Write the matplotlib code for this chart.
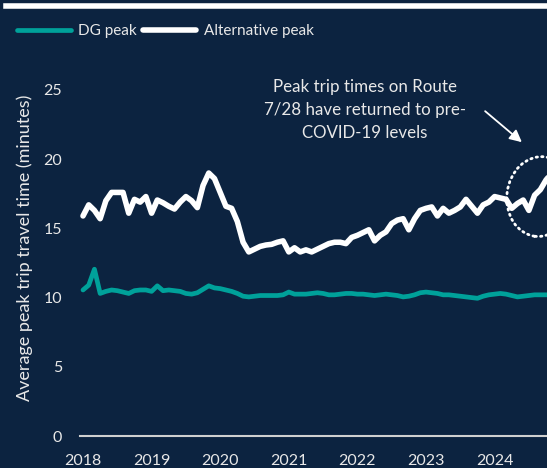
import numpy as np
import matplotlib; matplotlib.use('Agg')
import matplotlib.pyplot as plt
from matplotlib.patches import Ellipse
from matplotlib.transforms import ScaledTranslation

BG = '#0c2340'
TEAL = '#00a19a'
TXT = '#e8e8e8'
plt.rcParams['font.family'] = ['Lato', 'DejaVu Sans']

# monthly values starting Jan 2018
dg_peak = [10.55, 10.9, 12.05, 10.3, 10.45, 10.55, 10.5, 10.4, 10.3, 10.5, 10.55, 10.55,
           10.45, 10.85, 10.5, 10.55, 10.5, 10.45, 10.3, 10.25, 10.35, 10.6, 10.85, 10.7,
           10.65, 10.55, 10.45, 10.3, 10.1, 10.05, 10.1, 10.15, 10.15, 10.15, 10.15, 10.2,
           10.4, 10.25, 10.25, 10.25, 10.3, 10.35, 10.3, 10.2, 10.2, 10.25, 10.3, 10.3,
           10.25, 10.25, 10.2, 10.15, 10.2, 10.25, 10.2, 10.15, 10.05, 10.1, 10.2, 10.35,
           10.4, 10.35, 10.3, 10.2, 10.2, 10.15, 10.1, 10.05, 10.0, 9.95, 10.1, 10.2,
           10.25, 10.3, 10.25, 10.15, 10.05, 10.1, 10.15, 10.2, 10.2, 10.2, 10.2]
alt_peak = [15.9, 16.7, 16.3, 15.7, 17.0, 17.6, 17.6, 17.6, 16.1, 17.1, 16.9, 17.3,
            16.1, 17.05, 16.85, 16.6, 16.4, 16.9, 17.3, 17.0, 16.5, 18.1, 19.0, 18.6,
            17.6, 16.6, 16.45, 15.5, 14.0, 13.3, 13.5, 13.7, 13.8, 13.85, 14.0, 14.1,
            13.3, 13.6, 13.3, 13.45, 13.3, 13.5, 13.7, 13.9, 14.0, 14.0, 13.9, 14.35,
            14.5, 14.7, 14.9, 14.1, 14.5, 14.75, 15.35, 15.6, 15.7, 14.9, 15.7, 16.3,
            16.45, 16.55, 15.9, 16.45, 16.1, 16.3, 16.55, 17.1, 16.6, 16.1, 16.7, 16.9,
            17.3, 17.2, 17.1, 16.45, 16.8, 17.05, 16.3, 17.4, 17.8, 18.5, 19.0]
x = 2018 + np.arange(len(alt_peak)) / 12
years = list(range(2018, 2025))

fig = plt.figure(figsize=(5.47, 4.68), dpi=100, facecolor=BG)
ax = fig.add_axes([80/547, 32/468, 1 - 80/547, 376/468], facecolor=BG)

ax.plot(x, dg_peak, color=TEAL, lw=3.4, solid_capstyle='round', solid_joinstyle='round', label='DG peak')
ax.plot(x, alt_peak, color='white', lw=4.0, solid_capstyle='round', solid_joinstyle='round', label='Alternative peak')

ax.set_xlim(2018 - 3/68.6, 2018 + 464/68.6)
ax.set_ylim(0, 376/13.84)
ax.set_xticks(years)
ax.set_xticklabels([str(y) for y in years])
ax.set_yticks([0, 5, 10, 15, 20, 25])
ax.tick_params(length=0, colors=TXT, labelsize=11.5)
ax.tick_params(axis='y', pad=13)
ax.tick_params(axis='x', pad=13)
for s in ['top', 'right', 'left']:
    ax.spines[s].set_visible(False)
ax.spines['bottom'].set_color('#d0d0d0')
ax.spines['bottom'].set_linewidth(1.5)
ax.set_ylabel('Average peak trip travel time (minutes)', color=TXT, fontsize=13, labelpad=7)

# dotted ellipse around the recent rise (size in inches, centred on a data point)
ell_trans = fig.dpi_scale_trans + ScaledTranslation(2024.66, 17.3, ax.transData)
ax.add_patch(Ellipse((0, 0), 0.66, 0.80, angle=-7, fill=False, transform=ell_trans,
                     edgecolor='white', lw=2, linestyle=(0, (0.5, 1.5)), capstyle='round'))
ax.annotate('', xy=(2018 + 441/68.6, 21.1), xytext=(2018 + 400/68.6, 23.6),
            arrowprops=dict(arrowstyle='-|>', color='white', lw=1.3, mutation_scale=18))
ax.text(2018 + 282/68.6, 23.55, 'Peak trip times on Route\n7/28 have returned to pre-\nCOVID-19 levels',
        color=TXT, fontsize=12.2, ha='center', va='center', linespacing=1.55)

# header rule
fig.add_artist(plt.Line2D([6/547, 1], [1 - 5.5/468, 1 - 5.5/468], color='white', lw=4))
fig.legend(loc='upper left', bbox_to_anchor=(0.02, 1 - 18/468), ncol=2, frameon=False,
           fontsize=11, labelcolor=TXT, handlelength=3.5, handletextpad=0.5,
           columnspacing=0.4, borderaxespad=0)

fig.savefig('out.png', dpi=100, facecolor=BG)
